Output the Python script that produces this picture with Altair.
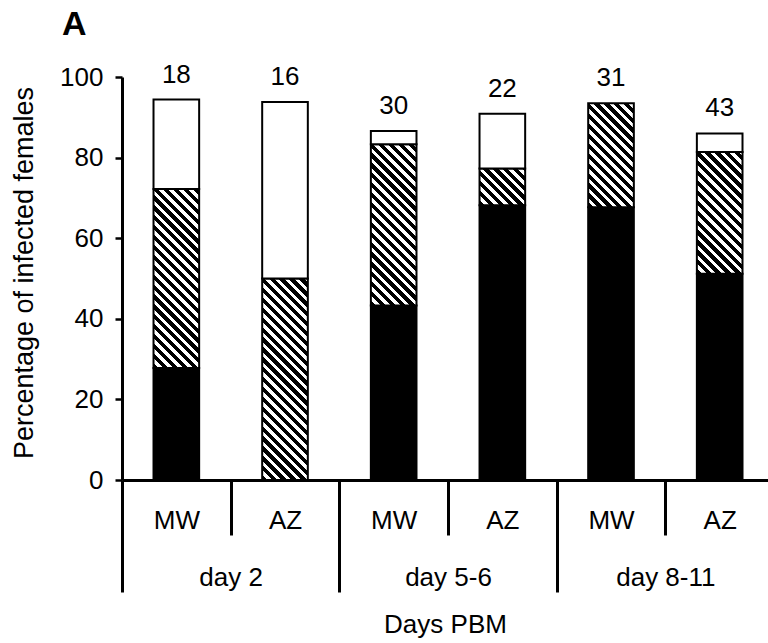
import math
import json
import altair as alt
import pandas as pd

# ---- data ----
strain = ["MW", "AZ", "MW", "AZ", "MW", "AZ"]
day_group = ["day 2", "day 2", "day 5-6", "day 5-6", "day 8-11", "day 8-11"]
group_labels = ["day 2", "day 5-6", "day 8-11"]
pct_black = [27.8, 0.0, 43.3, 68.2, 67.7, 51.2]
pct_hatched = [44.4, 50.0, 40.0, 9.1, 25.8, 30.2]
pct_white = [22.2, 43.8, 3.3, 13.6, 0.0, 4.6]
n_females = [18, 16, 30, 22, 31, 43]
y_ticks = [0, 20, 40, 60, 80, 100]

# ---- layout / style ----
FONT = "Liberation Sans"
FS = 26
TITLE_FS = 27
PLOT_H = 403
BAND = 108.67
PLOT_W = 646
HALF = 0.21
X_MAX = PLOT_W / BAND
STROKE_W = 2
HATCH_PERIOD = 7.0
HATCH_INK = 3.7

rows = []
for i in range(len(strain)):
    b, h, w = pct_black[i], pct_hatched[i], pct_white[i]
    rows.append(dict(idx=i, strain=strain[i], day=day_group[i],
                     pos=i + 0.5, left=i + 0.5 - HALF, right=i + 0.5 + HALF,
                     b0=0.0, b1=b, h0=b, h1=b + h, w0=b + h, w1=b + h + w,
                     n=n_females[i]))
df = pd.DataFrame(rows)


def hatch_gradient(w, h, period, ink):
    S = (w + h) / math.sqrt(2)
    stops = []
    s = 0.0
    while s < S - 1e-9:
        a = s
        b = min(s + ink, S)
        c = min(s + period, S)
        stops.append((a / S, "#000000"))
        stops.append((b / S, "#000000"))
        if b < S:
            stops.append((b / S, "#ffffff"))
            stops.append((c / S, "#ffffff"))
        s += period
    D = w * w + h * h
    x2 = w * (w + h) / D
    y2 = 1 - h * (w + h) / D
    return alt.LinearGradient(
        gradient="linear",
        stops=[alt.GradientStop(offset=round(o, 5), color=c) for o, c in stops],
        x1=0, y1=1, x2=x2, y2=y2,
    )


x_scale = alt.Scale(domain=[0, X_MAX], nice=False, zero=False)
y_scale = alt.Scale(domain=[0, 100], nice=False, zero=True)

strain_expr = json.dumps(strain) + "[floor(datum.value)]"
group_expr = json.dumps(group_labels) + "[floor(datum.value / 2)]"

axis_strain = alt.Axis(
    orient="bottom", values=[i + 0.5 for i in range(len(strain))],
    labelExpr=strain_expr, ticks=False, tickSize=0,
    domain=True, domainWidth=3, domainColor="black",
    labelFont=FONT, labelFontSize=FS, labelColor="black", labelPadding=27,
    labelAngle=0, title=None, grid=False,
)
axis_day = alt.Axis(
    orient="bottom", values=[1, 3, 5], labelExpr=group_expr,
    ticks=True, tickSize=55, tickWidth=3, tickColor="black", domain=False,
    labelFont=FONT, labelFontSize=FS, labelColor="black", labelPadding=29,
    labelAngle=0, grid=False,
    title="Days PBM", titleFont=FONT, titleFontSize=FS, titleFontWeight="normal",
    titleColor="black", titleBaseline="top", titleY=131, titleX=PLOT_W / 2,
)
axis_long = alt.Axis(
    orient="bottom", values=[0, 2, 4],
    ticks=True, tickSize=112, tickWidth=3, tickColor="black",
    labels=False, domain=False, title=None, grid=False,
)
y_axis = alt.Axis(
    orient="left", values=y_ticks, tickSize=7, tickWidth=2.5, tickColor="black",
    domain=True, domainWidth=3, domainColor="black", grid=False,
    labelFont=FONT, labelFontSize=FS, labelColor="black", labelPadding=12,
    title="Percentage of infected females", titleFont=FONT, titleFontSize=TITLE_FS,
    titleFontWeight="normal", titleColor="black", titleAngle=270,
    titleBaseline="middle", titleAlign="center", titleX=-98, titleY=PLOT_H / 2 - 6,
)

base = alt.Chart(df)

black_layer = base.transform_filter("datum.b1 > datum.b0").mark_bar(
    fill="black", stroke="black", strokeWidth=STROKE_W
).encode(
    x=alt.X("left:Q", scale=x_scale, axis=axis_strain),
    x2="right:Q",
    y=alt.Y("b0:Q", scale=y_scale, axis=y_axis),
    y2="b1:Q",
)

bar_w_px = 2 * HALF * BAND
hatch_layers = []
for i in range(len(strain)):
    if pct_hatched[i] <= 0:
        continue
    h_px = pct_hatched[i] * PLOT_H / 100.0
    grad = hatch_gradient(bar_w_px, h_px, HATCH_PERIOD, HATCH_INK)
    hatch_layers.append(
        base.transform_filter(f"datum.idx == {i}").mark_bar(
            fill=grad, stroke="black", strokeWidth=STROKE_W
        ).encode(
            x=alt.X("left:Q", scale=x_scale, axis=None),
            x2="right:Q",
            y=alt.Y("h0:Q", scale=y_scale, axis=y_axis),
            y2="h1:Q",
        )
    )

white_layer = base.transform_filter("datum.w1 > datum.w0").mark_bar(
    fill="white", stroke="black", strokeWidth=STROKE_W
).encode(
    x=alt.X("left:Q", scale=x_scale, axis=axis_day),
    x2="right:Q",
    y=alt.Y("w0:Q", scale=y_scale, axis=y_axis),
    y2="w1:Q",
)

count_layer = base.mark_text(
    font=FONT, fontSize=FS, color="black", baseline="middle", dy=-25
).encode(
    x=alt.X("pos:Q", scale=x_scale, axis=axis_long),
    y=alt.Y("w1:Q", scale=y_scale, axis=y_axis),
    text="n:Q",
)

chart = alt.layer(black_layer, *hatch_layers, white_layer, count_layer).resolve_axis(
    x="independent", y="shared"
).properties(
    width=PLOT_W,
    height=PLOT_H,
    background="white",
    autosize=alt.AutoSizeParams(type="none"),
    padding={"left": 122, "top": 77, "right": 0, "bottom": 163},
    title=alt.TitleParams(
        "A", anchor="start", frame="group", dx=-60, offset=-7,
        fontSize=34, fontWeight="bold", font=FONT, color="black",
        baseline="alphabetic",
    ),
).configure_view(stroke=None)

chart.save("out.html", embed_options={"renderer": "svg", "actions": False})
